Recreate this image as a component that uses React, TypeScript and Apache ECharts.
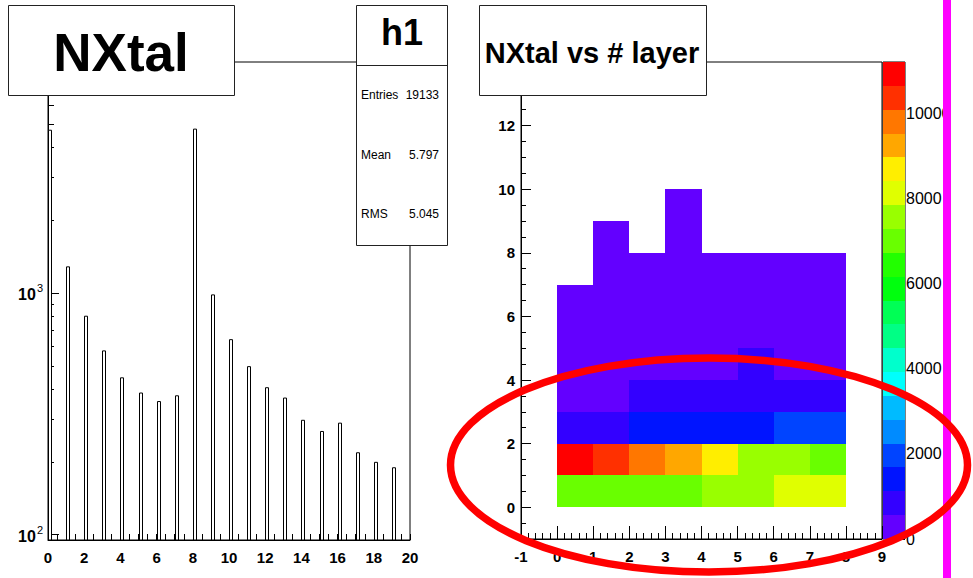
import React, { useEffect, useRef } from "react";
import * as echarts from "echarts";

// ---------- data ----------
const NXTAL_BINS = [0, 1, 2, 3, 4, 5, 6, 7, 8, 9, 10, 11, 12, 13, 14, 15, 16, 17, 18, 19];
const NXTAL_COUNTS = [4700, 1280, 800, 575, 445, 385, 355, 375, 4750, 980, 640, 495, 405, 367, 297, 267, 289, 218, 199, 189];
const LOG_MINOR_TICKS = [200, 300, 400, 500, 600, 700, 800, 900, 2000, 3000, 4000, 5000, 6000, 7000, 8000, 9000];
const LOG_Y_MIN = 95;
const LOG_Y_MAX = 9000;

const LAYER_BINS = [0, 1, 2, 3, 4, 5, 6, 7];
// rows indexed by NXtal bin (y), values per layer (x)
const ROW_0 = [7050, 7100, 7050, 7000, 7600, 7700, 8150, 8200];
const ROW_1 = [11210, 10400, 9800, 9300, 8700, 7700, 7650, 7100];
const ROW_2 = [900, 950, 1400, 1450, 1500, 1400, 1950, 2000];
const ROW_3 = [450, 420, 850, 900, 870, 880, 860, 830];
const ROW_4 = [380, 350, 400, 420, 390, 650, 370, 360];
const ROW_5 = [250, 280, 300, 320, 260, 240, 230, 220];
const ROW_6 = [150, 200, 180, 220, 160, 150, 140, 130];
const ROW_7 = [0, 110, 90, 130, 80, 70, 60, 60];
const ROW_8 = [0, 40, 0, 60, 0, 0, 0, 0];
const ROW_9 = [0, 0, 0, 20, 0, 0, 0, 0];
const HEAT_ROWS = [ROW_0, ROW_1, ROW_2, ROW_3, ROW_4, ROW_5, ROW_6, ROW_7, ROW_8, ROW_9];
const Z_MAX = 11210;

const PALETTE = [
  "#6300ff", "#3300ff", "#0014ff", "#0044ff", "#008bff",
  "#00bbff", "#00fffc", "#00ffcc", "#00ff85", "#00ff55",
  "#00ff0e", "#22ff00", "#69ff00", "#99ff00", "#e0ff00",
  "#ffee00", "#ffa700", "#ff7700", "#ff3000", "#ff0000",
];

const STATS_LABELS = ["Entries", "Mean", "RMS"];
const STATS_VALUES = ["19133", "5.797", "5.045"];

const FONT = '"Liberation Sans", Arial, Helvetica, sans-serif';

export default function App() {
  const ref = useRef<HTMLDivElement>(null);

  useEffect(() => {
    document.body.style.margin = "0";
    if (!ref.current) return;
    const chart = echarts.init(ref.current, null, { renderer: "svg" });

    const step = Z_MAX / PALETTE.length;
    const pieces = PALETTE.map((c, k) =>
      k === PALETTE.length - 1
        ? { gte: k * step, lte: Z_MAX + 1, color: c }
        : { gte: k * step, lt: (k + 1) * step, color: c }
    );

    const histData = NXTAL_BINS.map((b, i) => [b, NXTAL_COUNTS[i]]);
    const minorData = LOG_MINOR_TICKS.map((v) => [0, v]);
    const cells: number[][] = [];
    HEAT_ROWS.forEach((row, y) =>
      row.forEach((v, i) => {
        if (v > 0) cells.push([LAYER_BINS[i], y, v]);
      })
    );
    const barData = PALETTE.map((_, k) => [0, k]);

    const axisLabelBold = { color: "#000", fontSize: 15, fontWeight: "bold" as const, fontFamily: FONT };
    const blackLine = { lineStyle: { color: "#000", width: 1 } };

    const rectFrom = (p0: number[], p1: number[]) => {
      const x0 = Math.round(Math.min(p0[0], p1[0]));
      const x1 = Math.round(Math.max(p0[0], p1[0]));
      const y0 = Math.round(Math.min(p0[1], p1[1]));
      const y1 = Math.round(Math.max(p0[1], p1[1]));
      return { x: x0, y: y0, width: x1 - x0, height: y1 - y0 };
    };

    const option: any = {
      animation: false,
      backgroundColor: "#fff",
      textStyle: { fontFamily: FONT },
      grid: [
        { left: 48, top: 62, width: 362, height: 478, show: true, borderColor: "#000", borderWidth: 1, backgroundColor: "transparent" },
        { left: 521, top: 62, width: 361, height: 477, show: true, borderColor: "#000", borderWidth: 1, backgroundColor: "transparent" },
        { left: 883, top: 62, width: 22, height: 477, show: true, borderColor: "#000", borderWidth: 1, backgroundColor: "transparent" },
      ],
      xAxis: [
        {
          gridIndex: 0, type: "value", min: 0, max: 20, interval: 2,
          axisLine: { show: true, onZero: false, ...blackLine },
          axisTick: { show: true, inside: true, length: 6, ...blackLine },
          minorTick: { show: true, splitNumber: 4, length: 6, ...blackLine },
          splitLine: { show: false },
          axisLabel: { ...axisLabelBold, margin: 10 },
        },
        {
          gridIndex: 1, type: "value", min: -1, max: 9, interval: 1,
          axisLine: { show: true, onZero: false, ...blackLine },
          axisTick: { show: true, inside: true, length: 13, ...blackLine },
          minorTick: { show: true, splitNumber: 5, length: 6, ...blackLine },
          splitLine: { show: false },
          axisLabel: { ...axisLabelBold, margin: 10 },
        },
        {
          gridIndex: 2, type: "value", min: 0, max: 1, show: false,
        },
      ],
      yAxis: [
        {
          gridIndex: 0, type: "log", logBase: 10, min: LOG_Y_MIN, max: LOG_Y_MAX,
          axisLine: { show: true, onZero: false, ...blackLine },
          axisTick: { show: true, inside: true, length: 11, ...blackLine },
          splitLine: { show: false },
          axisLabel: {
            showMinLabel: false, showMaxLabel: false, margin: 5,
            formatter: (v: number) => `{b|10}{s|${Math.round(Math.log10(v))}}`,
            rich: {
              b: { fontSize: 16, fontWeight: "bold", color: "#000", fontFamily: FONT, lineHeight: 20, verticalAlign: "bottom" },
              s: { fontSize: 11, color: "#000", fontFamily: FONT, lineHeight: 20, verticalAlign: "top", padding: [0, 0, 0, 1] },
            },
          },
        },
        {
          gridIndex: 1, type: "value", min: -1, max: 14, splitNumber: 7,
          axisLine: { show: true, onZero: false, ...blackLine },
          axisTick: { show: true, inside: true, length: 10, ...blackLine },
          minorTick: { show: true, splitNumber: 4, length: 5, ...blackLine },
          splitLine: { show: false },
          axisLabel: { ...axisLabelBold, margin: 6, showMinLabel: false, showMaxLabel: false },
        },
        {
          gridIndex: 2, type: "value", min: 0, max: Z_MAX, interval: 2000, position: "right",
          axisLine: { show: false, onZero: false },
          axisTick: { show: true, inside: true, length: 8, ...blackLine },
          splitLine: { show: false },
          axisLabel: { color: "#000", fontSize: 16, fontFamily: FONT, margin: 1, showMaxLabel: false, formatter: (v: number) => String(v) },
        },
      ],
      visualMap: {
        type: "piecewise", show: false, seriesIndex: 2, dimension: 2, pieces,
      },
      series: [
        {
          type: "custom", xAxisIndex: 0, yAxisIndex: 0, data: histData, z: 3,
          renderItem: (params: any, api: any) => {
            const x = api.value(0);
            const v = api.value(1);
            const top = api.coord([x, v]);
            const base = api.coord([x, LOG_Y_MIN]);
            return {
              type: "rect",
              shape: { x: Math.round(top[0]) + 0.5, y: top[1], width: 3, height: base[1] - top[1] },
              style: { fill: "#fff", stroke: "#000", lineWidth: 1 },
            };
          },
        },
        {
          type: "custom", xAxisIndex: 0, yAxisIndex: 0, data: minorData, z: 2,
          renderItem: (params: any, api: any) => {
            const p = api.coord([api.value(0), api.value(1)]);
            const y = Math.round(p[1]) + 0.5;
            return {
              type: "line",
              shape: { x1: p[0], y1: y, x2: p[0] + 6, y2: y },
              style: { stroke: "#000", lineWidth: 1 },
            };
          },
        },
        {
          type: "custom", xAxisIndex: 1, yAxisIndex: 1, data: cells, z: 2,
          renderItem: (params: any, api: any) => {
            const x = api.value(0);
            const y = api.value(1);
            const p0 = api.coord([x, y]);
            const p1 = api.coord([x + 1, y + 1]);
            const color = api.visual("color");
            return {
              type: "rect",
              shape: rectFrom(p0, p1),
              style: { fill: color },
            };
          },
        },
        {
          type: "custom", xAxisIndex: 2, yAxisIndex: 2, data: barData, z: 1,
          renderItem: (params: any, api: any) => {
            const k = api.value(1);
            const p0 = api.coord([0, k * step]);
            const p1 = api.coord([1, (k + 1) * step]);
            return {
              type: "rect",
              shape: rectFrom(p0, p1),
              style: { fill: PALETTE[k] },
            };
          },
        },
      ],
      graphic: [
        // left title box
        { type: "rect", z: 100, shape: { x: 8.5, y: 5.5, width: 226, height: 90 }, style: { fill: "#fff", stroke: "#222", lineWidth: 1 } },
        { type: "text", z: 101, x: 121, y: 52, style: { text: "NXtal", fontSize: 53, fontWeight: "bold", fontFamily: FONT, fill: "#000", align: "center", verticalAlign: "middle" } },
        // stats box
        { type: "rect", z: 100, shape: { x: 356.5, y: 5.5, width: 91, height: 240 }, style: { fill: "#fff", stroke: "#222", lineWidth: 1 } },
        { type: "line", z: 101, shape: { x1: 356.5, y1: 65.5, x2: 447.5, y2: 65.5 }, style: { stroke: "#222", lineWidth: 1 } },
        { type: "text", z: 101, x: 402, y: 32, style: { text: "h1", fontSize: 36, fontWeight: "bold", fontFamily: FONT, fill: "#000", align: "center", verticalAlign: "middle" } },
        ...STATS_LABELS.map((t, i) => ({
          type: "text", z: 101, x: 361, y: [95, 155, 214][i],
          style: { text: t, fontSize: 12, fontFamily: FONT, fill: "#000", align: "left", verticalAlign: "middle" },
        })),
        ...STATS_VALUES.map((t, i) => ({
          type: "text", z: 101, x: 439, y: [95, 155, 214][i],
          style: { text: t, fontSize: 12, fontFamily: FONT, fill: "#000", align: "right", verticalAlign: "middle" },
        })),
        // right title box
        { type: "rect", z: 100, shape: { x: 479.5, y: 5.5, width: 227, height: 90 }, style: { fill: "#fff", stroke: "#222", lineWidth: 1 } },
        { type: "text", z: 101, x: 592, y: 53, style: { text: "NXtal vs # layer", fontSize: 29, fontWeight: "bold", fontFamily: FONT, fill: "#000", align: "center", verticalAlign: "middle" } },
        // magenta line
        { type: "rect", z: 150, shape: { x: 943, y: 0, width: 8, height: 578 }, style: { fill: "#ff00ff" } },
        // red ellipse
        { type: "ellipse", z: 200, shape: { cx: 709, cy: 465, rx: 258.5, ry: 107 }, style: { fill: "none", stroke: "#ff0000", lineWidth: 7.5 } },
      ],
    };

    chart.setOption(option);
    return () => chart.dispose();
  }, []);

  return <div ref={ref} style={{ width: 973, height: 578 }} />;
}
